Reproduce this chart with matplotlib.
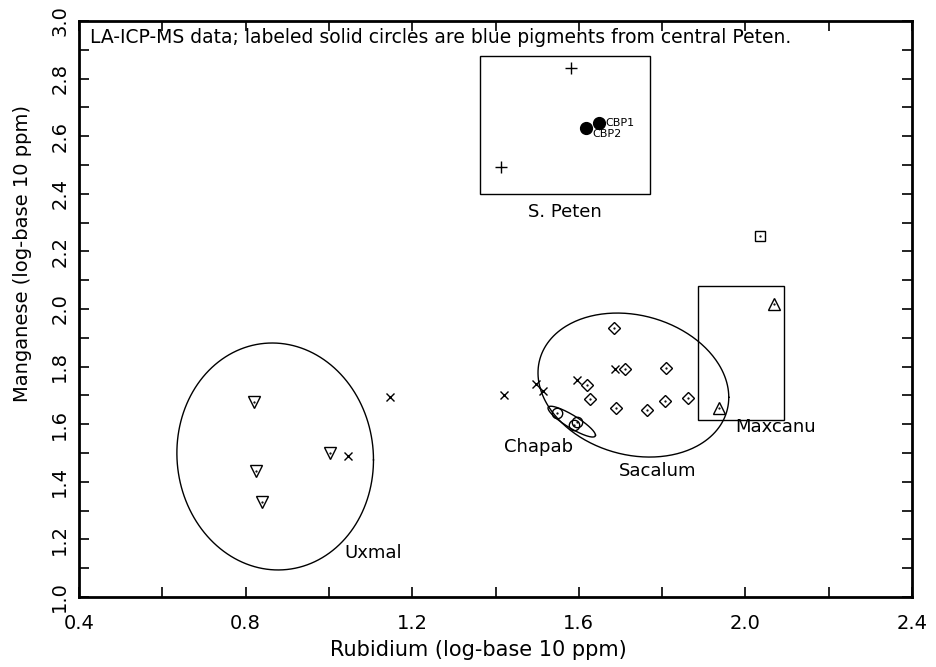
import matplotlib.pyplot as plt
import numpy as np
from matplotlib.patches import Rectangle
from matplotlib.ticker import MultipleLocator

# S. Peten (plus) and central Peten blue pigments (solid circles)
peten_x = [1.581, 1.413]
peten_y = [2.837, 2.493]
cbp_x = [1.648, 1.617]
cbp_y = [2.646, 2.628]
cbp_labels = ['CBP1', 'CBP2']

# Uxmal (down triangles)
uxmal_x = [0.820, 0.825, 0.839, 1.003]
uxmal_y = [1.677, 1.437, 1.330, 1.500]

# unassigned (x)
other_x = [1.147, 1.046, 1.420, 1.497, 1.514, 1.596, 1.687]
other_y = [1.694, 1.490, 1.701, 1.740, 1.715, 1.753, 1.792]

# Sacalum (diamonds)
sacalum_x = [1.685, 1.711, 1.809, 1.620, 1.627, 1.689, 1.764, 1.807, 1.862]
sacalum_y = [1.934, 1.792, 1.795, 1.736, 1.688, 1.656, 1.649, 1.681, 1.691]

# Chapab (open circles)
chapab_x = [1.548, 1.589, 1.596]
chapab_y = [1.639, 1.597, 1.608]

# Maxcanu (up triangles) and square
maxcanu_x = [2.069, 1.937]
maxcanu_y = [2.017, 1.656]
square_x = [2.035]
square_y = [2.253]

# group ellipses: center x, center y, spread x, spread y, correlation
ell_uxmal = [0.871, 1.488, 0.236, 0.394, -0.03]
ell_sacalum = [1.731, 1.736, 0.229, 0.250, -0.17]
ell_chapab = [1.583, 1.609, 0.057, 0.0535, -0.88]

# group boxes: x0, y0, x1, y1
box_peten = [1.363, 2.399, 1.771, 2.878]
box_maxcanu = [1.886, 1.615, 2.093, 2.080]

fig = plt.figure(figsize=(9.36, 6.67), dpi=100)
ax = fig.add_axes([0.0844, 0.1049, 0.89, 0.8636])


def draw_ellipse(p):
    cx, cy, sx, sy, rho = p
    t = np.linspace(0, 2 * np.pi, 300)
    ex = cx + sx * np.cos(t)
    ey = cy + sy * (rho * np.cos(t) + np.sqrt(1 - rho ** 2) * np.sin(t))
    ax.plot(ex, ey, color='black', lw=1.0)


def draw_box(b):
    ax.add_patch(Rectangle((b[0], b[1]), b[2] - b[0], b[3] - b[1],
                           fill=False, ec='black', lw=1.0))


for e in (ell_uxmal, ell_sacalum, ell_chapab):
    draw_ellipse(e)
draw_box(box_peten)
draw_box(box_maxcanu)

open_kw = dict(ls='none', mfc='none', mec='black', mew=1.0)
ax.plot(peten_x, peten_y, '+', color='black', ms=9, mew=1.0, ls='none')
ax.plot(cbp_x, cbp_y, 'o', color='black', ms=8.5, ls='none')
ax.plot(other_x, other_y, 'x', color='black', ms=6, mew=1.0, ls='none')
ax.plot(uxmal_x, uxmal_y, 'v', ms=8, **open_kw)
ax.plot(sacalum_x, sacalum_y, 'D', ms=6, **open_kw)
ax.plot(chapab_x, chapab_y, 'o', ms=7.5, **open_kw)
ax.plot(maxcanu_x, maxcanu_y, '^', ms=9, **open_kw)
ax.plot(square_x, square_y, 's', ms=6.5, **open_kw)
# little centre dots inside the open symbols
for xs, ys in ((uxmal_x, uxmal_y), (sacalum_x, sacalum_y), (chapab_x, chapab_y),
               (maxcanu_x, maxcanu_y), (square_x, square_y)):
    ax.plot(xs, ys, '.', color='black', ms=1.2, ls='none')

ax.text(cbp_x[0] + 0.015, cbp_y[0], cbp_labels[0], fontsize=8, va='center', ha='left')
ax.text(cbp_x[1] + 0.015, cbp_y[1] - 0.02, cbp_labels[1], fontsize=8, va='center', ha='left')

ax.text(0.426, 2.944, 'LA-ICP-MS data; labeled solid circles are blue pigments from central Peten.',
        fontsize=13.5, va='center', ha='left')
ax.text(1.567, 2.337, 'S. Peten', fontsize=13, ha='center', va='center')
ax.text(1.106, 1.153, 'Uxmal', fontsize=13, ha='center', va='center')
ax.text(1.504, 1.521, 'Chapab', fontsize=13, ha='center', va='center')
ax.text(1.788, 1.437, 'Sacalum', fontsize=13, ha='center', va='center')
ax.text(2.073, 1.590, 'Maxcanu', fontsize=13, ha='center', va='center')

ax.set_xlim(0.4, 2.4)
ax.set_ylim(1.0, 3.0)
ax.xaxis.set_major_locator(MultipleLocator(0.4))
ax.xaxis.set_minor_locator(MultipleLocator(0.2))
ax.yaxis.set_major_locator(MultipleLocator(0.2))
ax.yaxis.set_minor_locator(MultipleLocator(0.1))
ax.tick_params(which='both', direction='in', length=7, width=1.2, top=True, right=True)
ax.tick_params(axis='x', labelsize=14, pad=12)
ax.tick_params(axis='y', labelsize=14, pad=7)
for lab in ax.get_yticklabels():
    lab.set_rotation(90)
    lab.set_va('center')
for s in ax.spines.values():
    s.set_linewidth(2)

ax.set_xlabel('Rubidium (log-base 10 ppm)', fontsize=15)
ax.set_ylabel('Manganese (log-base 10 ppm)', fontsize=14)
ax.xaxis.set_label_coords(0.48, -0.092)
ax.xaxis.label.set_va('center')
ax.yaxis.set_label_coords(-0.0684, 0.597)
ax.yaxis.label.set_va('center')

fig.savefig('out.png', dpi=100)
